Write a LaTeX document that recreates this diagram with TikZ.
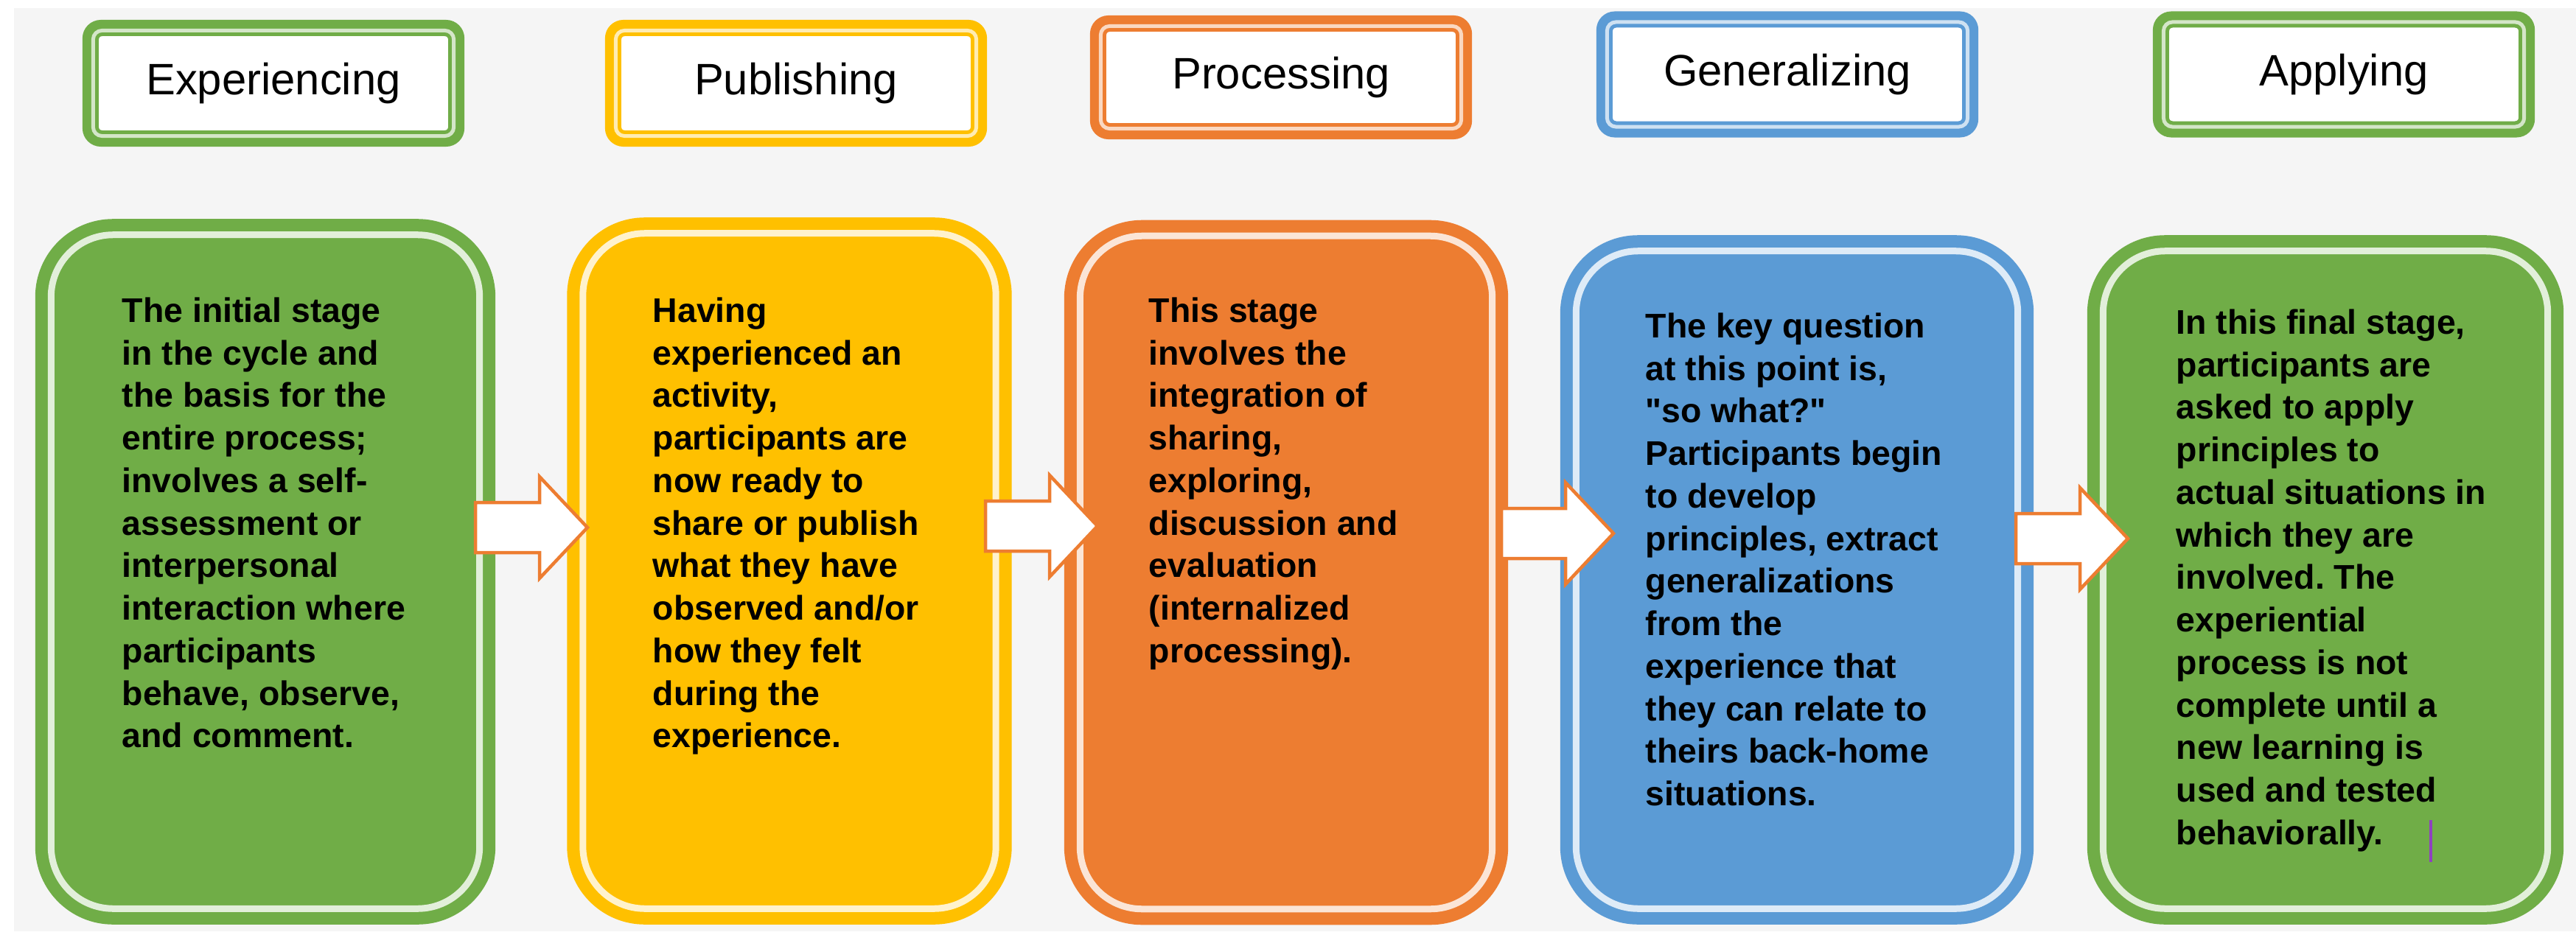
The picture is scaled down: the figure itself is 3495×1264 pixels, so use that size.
\documentclass[tikz,border=0pt]{standalone}
\usepackage{fontspec}
\setmainfont{Liberation Sans}[Ligatures=TeXOff]
\definecolor{stgreen}{HTML}{70AD47}
\definecolor{styellow}{HTML}{FFC000}
\definecolor{storange}{HTML}{ED7D31}
\definecolor{stblue}{HTML}{5B9BD5}
\definecolor{bggray}{HTML}{F5F5F5}
\definecolor{cursorpurple}{HTML}{9040C0}
\tikzset{
  headback/.style={fill=#1, rounded corners=0.25cm, inner sep=0pt, minimum width=5.18cm},
  headfront/.style={fill=white, draw=#1, line width=0.05cm, double=#1!30, double distance=0.05cm,
    rounded corners=0.12cm, inner sep=0pt, minimum width=4.89cm, font=\fontsize{17pt}{20pt}\selectfont},
  stagebody/.style={fill=#1, draw=#1, line width=0.17cm, double=white!80!#1, double distance=0.09cm,
    rounded corners=0.84cm, inner sep=0pt},
  bodytext/.style={anchor=north west, align=left, inner sep=0pt,
    font=\fontsize{13.2pt}{16.42pt}\selectfont\bfseries\frenchspacing},
  stagearrow/.style={fill=white, draw=storange, line width=0.045cm, line join=miter}
}
\newcommand\blockarrow[1]{\draw[stagearrow] (#1) ++(0,-34) -- ++(87,0) -- ++(0,-35) -- ++(65,69)
  -- ++(-65,69) -- ++(0,-35) -- ++(-87,0) -- cycle;}
\begin{document}
\begin{tikzpicture}[x=0.01cm,y=-0.01cm]
  \useasboundingbox (0,0) rectangle (3495,1264);
  \fill[white] (0,0) rectangle (3495,1264);
  \fill[bggray] (19,11) rectangle (3495,1264);

  % stage titles
  \node[headback=stgreen, minimum height=1.72cm] (hb1) at (371,113) {};
  \node[headfront=stgreen, minimum height=1.43cm] (h1) at (hb1) {Experiencing};
  \node[headback=styellow, minimum height=1.72cm] (hb2) at (1080,113) {};
  \node[headfront=styellow, minimum height=1.43cm] (h2) at (hb2) {Publishing};
  \node[headback=storange, minimum height=1.68cm] (hb3) at (1738,105) {};
  \node[headfront=storange, minimum height=1.39cm] (h3) at (hb3) {Processing};
  \node[headback=stblue, minimum height=1.71cm] (hb4) at (2425,101) {};
  \node[headfront=stblue, minimum height=1.42cm] (h4) at (hb4) {Generalizing};
  \node[headback=stgreen, minimum height=1.71cm] (hb5) at (3180,101) {};
  \node[headfront=stgreen, minimum height=1.42cm] (h5) at (hb5) {Applying};

  % stage boxes
  \node[stagebody=stgreen, minimum width=5.81cm, minimum height=9.14cm] (b1) at (360,776) {};
  \node[stagebody=styellow, minimum width=5.60cm, minimum height=9.16cm] (b2) at (1071,775) {};
  \node[stagebody=storange, minimum width=5.59cm, minimum height=9.13cm] (b3) at (1745,777) {};
  \node[stagebody=stblue, minimum width=5.99cm, minimum height=8.92cm] (b4) at (2438,787) {};
  \node[stagebody=stgreen, minimum width=6.03cm, minimum height=8.92cm] (b5) at (3155,787) {};

  \node[bodytext] (t1) at (165,403) {The initial stage\\in the cycle and\\the basis for the\\entire process;\\involves a self-\\assessment or\\interpersonal\\interaction where\\participants\\behave, observe,\\and comment.};
  \node[bodytext] (t2) at (885,403) {Having\\experienced an\\activity,\\participants are\\now ready to\\share or publish\\what they have\\observed and/or\\how they felt\\during the\\experience.};
  \node[bodytext] (t3) at (1558,403) {This stage\\involves the\\integration of\\sharing,\\exploring,\\discussion and\\evaluation\\(internalized\\processing).};
  \node[bodytext] (t4) at (2232,424) {The key question\\at this point is,\\"so what?"\\Participants begin\\to develop\\principles, extract\\generalizations\\from the\\experience that\\they can relate to\\theirs back-home\\situations.};
  \node[bodytext] (t5) at (2952,419) {In this final stage,\\participants are\\asked to apply\\principles to\\actual situations in\\which they are\\involved. The\\experiential\\process is not\\complete until a\\new learning is\\used and tested\\behaviorally.};

  % arrows between stages
  \coordinate (arr1) at (645,716);
  \coordinate (arr2) at (1337,714);
  \coordinate (arr3) at (2037,724);
  \coordinate (arr4) at (2735,731);
  \blockarrow{arr1}
  \blockarrow{arr2}
  \blockarrow{arr3}
  \blockarrow{arr4}

  \coordinate (cur1) at (3298,1113);
  \coordinate (cur2) at (3298,1170);
  \draw[cursorpurple, line width=0.045cm] (cur1) -- (cur2);
\end{tikzpicture}
\end{document}
